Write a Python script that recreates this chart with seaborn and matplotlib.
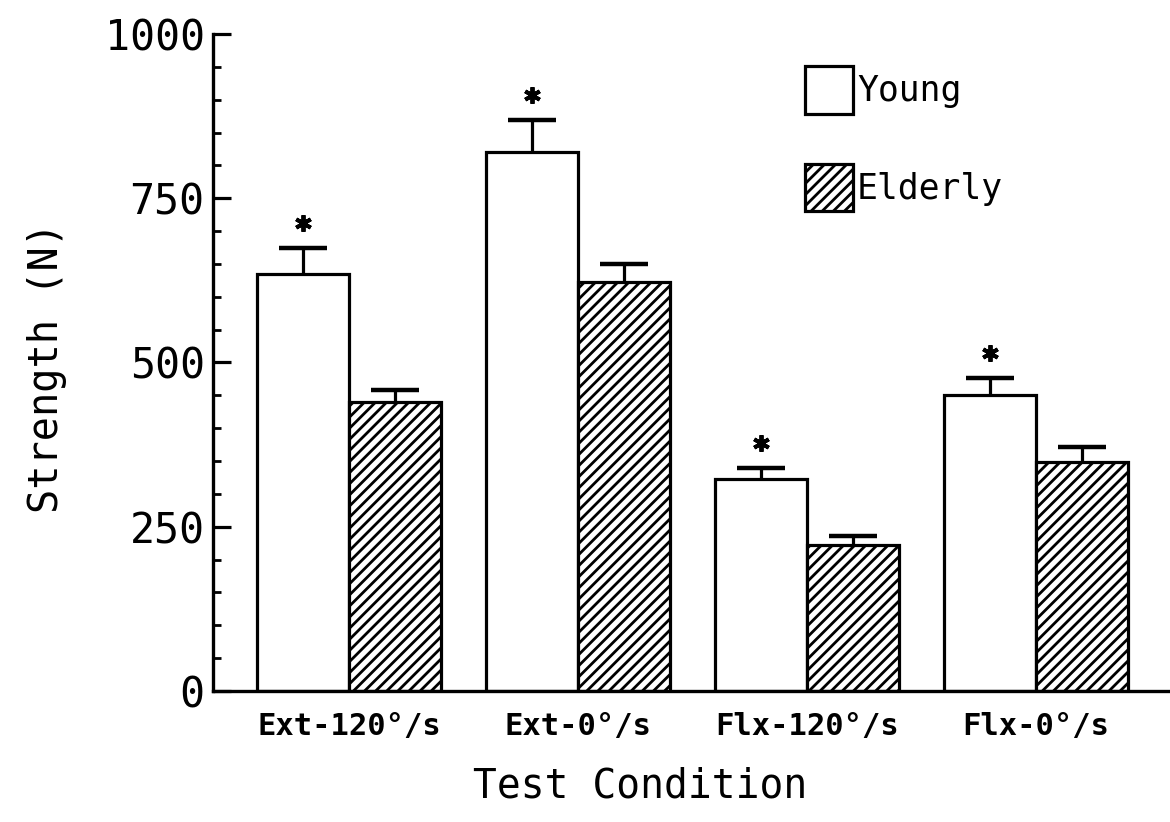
import numpy as np
import pandas as pd
import matplotlib
matplotlib.use("Agg")
import matplotlib.pyplot as plt
import seaborn as sns
from matplotlib.patches import Patch
from matplotlib.ticker import MultipleLocator

# Knee strength by test condition (mean, upward SE)
conditions = ["Ext-120°/s", "Ext-0°/s", "Flx-120°/s", "Flx-0°/s"]
groups = ["Young", "Elderly"]
young_mean = [635, 820, 323, 450]
young_err = [39, 49, 16, 26]
elderly_mean = [440, 622, 222, 349]
elderly_err = [18, 28, 14, 22]
young_signif = [True, True, True, True]
y_ticks = [0, 250, 500, 750, 1000]

sns.set_theme(style="white")
plt.rcParams["font.family"] = ["DejaVu Sans Mono", "DejaVu Sans"]
plt.rcParams["hatch.linewidth"] = 2.0
plt.rcParams["hatch.color"] = "black"
for key in ["text.color", "axes.labelcolor", "xtick.color", "ytick.color"]:
    plt.rcParams[key] = "black"

df = pd.DataFrame({
    "condition": conditions * 2,
    "group": [groups[0]] * len(conditions) + [groups[1]] * len(conditions),
    "strength": young_mean + elderly_mean,
})

fig = plt.figure(figsize=(11.7, 8.22), dpi=100)
ax = fig.add_axes([0.182, 0.1594, 0.818, 0.7993])

sns.barplot(data=df, x="condition", y="strength", hue="group",
            order=conditions, hue_order=groups,
            palette=["white", "white"], saturation=1,
            edgecolor="black", linewidth=2.3, width=0.8,
            errorbar=None, legend=False, ax=ax)

for bar in ax.containers[1]:
    bar.set_hatch("///")

# upward-only error bars, and significance stars over the young bars
for cont, means, errs in [(ax.containers[0], young_mean, young_err),
                          (ax.containers[1], elderly_mean, elderly_err)]:
    xs = [b.get_x() + b.get_width() / 2 for b in cont]
    _, caps, _ = ax.errorbar(xs, means, yerr=[np.zeros(len(errs)), errs],
                             fmt="none", ecolor="black", elinewidth=2.3,
                             capsize=17, capthick=3.2, zorder=5)
    caps[0].set_visible(False)

star_x = [b.get_x() + b.get_width() / 2 for b in ax.containers[0]]
for x, m, e, s in zip(star_x, young_mean, young_err, young_signif):
    if s:
        ax.plot([x], [m + e + 38], marker=(6, 2, 0), ms=12, mew=2.8,
                color="black", ls="none", zorder=6)

ax.set_xlim(-0.594, 3.585)
ax.set_ylim(0, 1000)
ax.set_yticks(y_ticks)
ax.yaxis.set_minor_locator(MultipleLocator(50))

ax.tick_params(axis="y", which="major", direction="in", length=13,
               width=2.3, labelsize=30, pad=6, left=True)
ax.tick_params(axis="y", which="minor", direction="in", length=6,
               width=2.0, left=True)
ax.tick_params(axis="x", length=0, labelsize=22, pad=15)
for lab in ax.get_xticklabels():
    lab.set_fontweight("bold")

for side in ["top", "right"]:
    ax.spines[side].set_visible(False)
for side in ["left", "bottom"]:
    ax.spines[side].set_color("black")
    ax.spines[side].set_linewidth(2.4)

ax.set_ylabel("Strength (N)", fontsize=29)
ax.yaxis.set_label_coords(-0.153, 0.493)
ax.set_xlabel("Test Condition", fontsize=28.5)
ax.xaxis.set_label_coords(0.446, -0.115)

handles = [Patch(facecolor="white", edgecolor="black", linewidth=2.3),
           Patch(facecolor="white", edgecolor="black", linewidth=2.3, hatch="///")]
fig.legend(handles, groups, loc="upper left",
           bbox_to_anchor=(805 / 1170, 1 - 66 / 822),
           bbox_transform=fig.transFigure, frameon=False,
           fontsize=25, handlelength=1.38, handleheight=1.73,
           handletextpad=0.12, labelspacing=1.44, borderpad=0,
           borderaxespad=0)

fig.savefig("out.png", dpi=100, facecolor="white")
